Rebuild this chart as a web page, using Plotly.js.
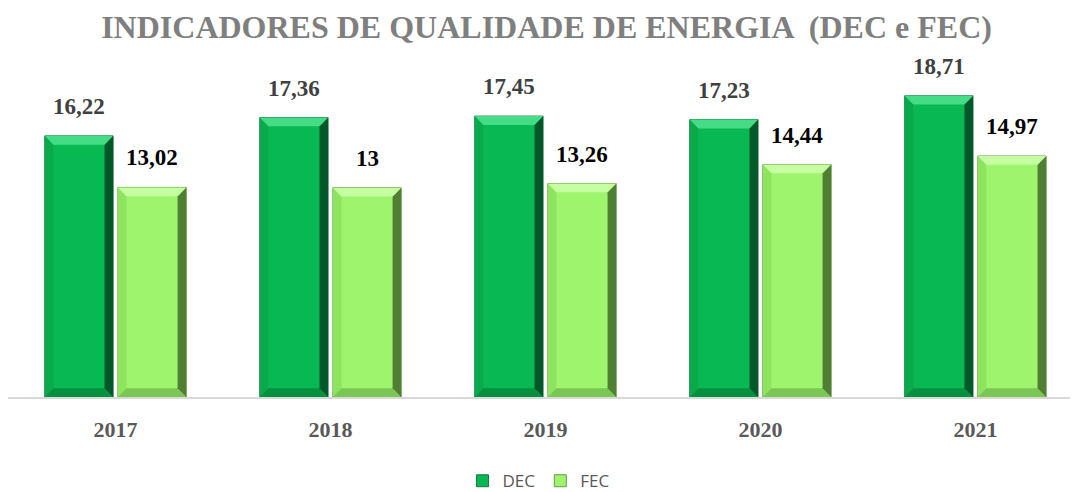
<!DOCTYPE html>
<html>
<head>
<meta charset="utf-8">
<script src="https://cdn.plot.ly/plotly-3.0.1.min.js"></script>
<style>html,body{margin:0;padding:0;background:#fff;}#chart{width:1078px;height:492px;}</style>
</head>
<body>
<div id="chart"></div>
<script>
const years = ['2017', '2018', '2019', '2020', '2021'];
const decValues = [16.22, 17.36, 17.45, 17.23, 18.71];
const fecValues = [13.02, 13.00, 13.26, 14.44, 14.97];
const decLabels = ['16,22', '17,36', '17,45', '17,23', '18,71'];
const fecLabels = ['13,02', '13', '13,26', '14,44', '14,97'];

const serif = '"Liberation Serif", "DejaVu Serif", serif';

// bar geometry (category units) must mirror bargap/bargroupgap below
const BARGAP = 0.32, GROUPGAP = 0.065;
const slot = (1 - BARGAP) / 2;
const half = slot * (1 - GROUPGAP) / 2;
const dx = 0.04, dy = 0.55; // bevel depth

const traces = [
  {
    type: 'bar', name: 'DEC', x: years, y: decValues,
    marker: { color: '#08B853', line: { color: '#05602D', width: 0.8 } },
    hoverinfo: 'x+y'
  },
  {
    type: 'bar', name: 'FEC', x: years, y: fecValues,
    marker: { color: '#9EF46C', line: { color: '#4F7F33', width: 0.8 } },
    hoverinfo: 'x+y'
  }
];

const bevelColors = {
  DEC: { top: '#45DC86', right: '#03582A', bottom: '#07903F', left: '#0AA94C' },
  FEC: { top: '#C6FFA2', right: '#507F33', bottom: '#7BC654', left: '#8EE35F' }
};

const shapes = [];
function addBevel(cx, v, col) {
  const x0 = cx - half, x1 = cx + half;
  const p = (pts) => 'M' + pts.map(q => q[0] + ',' + q[1]).join(' L') + ' Z';
  const common = { type: 'path', xref: 'x', yref: 'y', line: { width: 0 }, layer: 'above' };
  shapes.push(Object.assign({}, common, { fillcolor: col.left,
    path: p([[x0, v], [x0 + dx, v - dy], [x0 + dx, dy], [x0, 0]]) }));
  shapes.push(Object.assign({}, common, { fillcolor: col.bottom,
    path: p([[x0, 0], [x1, 0], [x1 - dx, dy], [x0 + dx, dy]]) }));
  shapes.push(Object.assign({}, common, { fillcolor: col.right,
    path: p([[x1, v], [x1, 0], [x1 - dx, dy], [x1 - dx, v - dy]]) }));
  shapes.push(Object.assign({}, common, { fillcolor: col.top,
    path: p([[x0, v], [x1, v], [x1 - dx, v - dy], [x0 + dx, v - dy]]) }));
}

const annotations = [];
years.forEach((yr, i) => {
  addBevel(i - slot / 2, decValues[i], bevelColors.DEC);
  addBevel(i + slot / 2, fecValues[i], bevelColors.FEC);
  annotations.push({
    x: i - slot / 2, y: decValues[i], xref: 'x', yref: 'y', text: decLabels[i],
    showarrow: false, yanchor: 'bottom', yshift: 15,
    font: { family: serif, size: 23, color: '#404040', weight: 'bold' }
  });
  annotations.push({
    x: i + slot / 2, y: fecValues[i], xref: 'x', yref: 'y', text: fecLabels[i],
    showarrow: false, yanchor: 'bottom', yshift: 15,
    font: { family: serif, size: 23, color: '#000000', weight: 'bold' }
  });
});

const layout = {
  width: 1078, height: 492,
  paper_bgcolor: '#ffffff', plot_bgcolor: '#ffffff',
  margin: { l: 8, r: 8, t: 75, b: 95, autoexpand: false },
  title: {
    text: '<b>INDICADORES DE QUALIDADE DE ENERGIA  (DEC e FEC)</b>',
    font: { family: serif, size: 32, color: '#7F7F7F' },
    x: 0.507, xanchor: 'center', y: 0.945, yanchor: 'middle'
  },
  barmode: 'group', bargap: BARGAP, bargroupgap: GROUPGAP,
  xaxis: {
    type: 'category', range: [-0.5, 4.44],
    showline: true, linecolor: '#D9D9D9', linewidth: 1.5,
    ticks: '', showgrid: false, zeroline: false,
    tickfont: { family: serif, size: 22, color: '#595959', weight: 'bold' },
    ticklabelstandoff: 12
  },
  yaxis: {
    range: [0, 20], visible: false, showgrid: false, zeroline: false
  },
  showlegend: true,
  legend: {
    orientation: 'h', x: 0.5, xanchor: 'center',
    yref: 'container', y: 0.022, yanchor: 'middle',
    font: { family: '"Open Sans", "Liberation Sans", sans-serif', size: 17, color: '#595959' },
    itemwidth: 30, traceorder: 'normal'
  },
  shapes: shapes,
  annotations: annotations
};

Plotly.newPlot('chart', traces, layout, { displayModeBar: false, staticPlot: true });
</script>
</body>
</html>
